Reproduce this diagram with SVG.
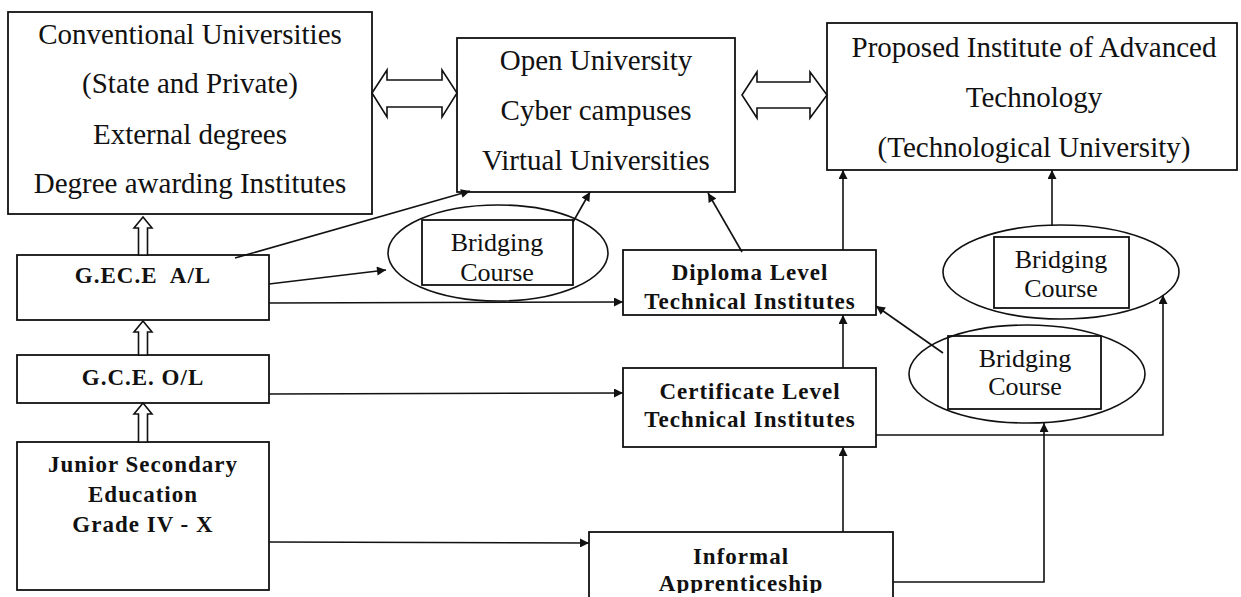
<svg xmlns="http://www.w3.org/2000/svg" width="1241" height="597" viewBox="0 0 1241 597">
<style>
.box{fill:#fff;stroke:#111;stroke-width:1.8}
.ell{fill:none;stroke:#111;stroke-width:1.6}
.hol{fill:#fff;stroke:#111;stroke-width:1.6;stroke-linejoin:miter}
.t{font-family:"Liberation Serif","Times New Roman",serif;fill:#111;text-anchor:middle}
.big{font-size:29px}
.br{font-size:26px}
.b{font-weight:bold;font-size:23px;letter-spacing:1px}
.pre{white-space:pre}
.con path{fill:none;stroke:#111;stroke-width:1.6;marker-end:url(#ah)}
</style>
<defs>
<marker id="ah" viewBox="0 0 10 10" refX="10" refY="5" markerWidth="11" markerHeight="9" markerUnits="userSpaceOnUse" orient="auto"><path d="M0,0 L10,5 L0,10 z" fill="#111"/></marker>
<clipPath id="cB1"><rect x="422" y="220" width="151" height="63"/></clipPath>
<clipPath id="cDip"><rect x="623" y="250" width="253" height="62"/></clipPath>
<clipPath id="cInf"><rect x="589" y="532" width="304" height="61"/></clipPath>
</defs>
<rect width="1241" height="597" fill="#fff"/>

<g id="conventional">
<rect class="box" x="8" y="12" width="364" height="202"/>
<text class="t big" x="190" y="44">Conventional Universities</text>
<text class="t big" x="190" y="93">(State and Private)</text>
<text class="t big" x="190" y="144">External degrees</text>
<text class="t big" x="190" y="193">Degree awarding Institutes</text>
</g>

<g id="open">
<rect class="box" x="457" y="38" width="278" height="154"/>
<text class="t big" x="596" y="70">Open University</text>
<text class="t big" x="596" y="120">Cyber campuses</text>
<text class="t big" x="596" y="170">Virtual Universities</text>
</g>

<g id="advanced">
<rect class="box" x="827" y="23" width="410" height="147"/>
<text class="t big" x="1034" y="57">Proposed Institute of Advanced</text>
<text class="t big" x="1034" y="107">Technology</text>
<text class="t big" x="1034" y="157">(Technological University)</text>
</g>

<g id="gce-al">
<rect class="box" x="17" y="255" width="252" height="65"/>
<text class="t b pre" x="143" y="283">G.EC.E  A/L</text>
</g>

<g id="gce-ol">
<rect class="box" x="17" y="355" width="252" height="48"/>
<text class="t b" x="143" y="385">G.C.E. O/L</text>
</g>

<g id="junior">
<rect class="box" x="17" y="442" width="252" height="148"/>
<text class="t b" x="143" y="472">Junior Secondary</text>
<text class="t b" x="143" y="502">Education</text>
<text class="t b" x="143" y="532">Grade IV - X</text>
</g>

<g id="bridging1">
<ellipse class="ell" cx="498" cy="253" rx="110" ry="48"/>
<rect class="box" x="422" y="220" width="151" height="65" style="fill:none"/>
<g clip-path="url(#cB1)">
<text class="t br" x="497" y="251">Bridging</text>
<text class="t br" x="497" y="281">Course</text>
</g>
</g>

<g id="diploma">
<rect class="box" x="623" y="250" width="253" height="65"/>
<g clip-path="url(#cDip)">
<text class="t b" x="750" y="280">Diploma Level</text>
<text class="t b" x="750" y="309">Technical Institutes</text>
</g>
</g>

<g id="certificate">
<rect class="box" x="623" y="368" width="253" height="79"/>
<text class="t b" x="750" y="399">Certificate Level</text>
<text class="t b" x="750" y="427">Technical Institutes</text>
</g>

<g id="informal">
<rect class="box" x="589" y="532" width="304" height="70"/>
<g clip-path="url(#cInf)">
<text class="t b" x="741" y="564">Informal</text>
<text class="t b" x="741" y="591">Apprenticeship</text>
</g>
</g>

<g id="bridging2">
<ellipse class="ell" cx="1061" cy="272" rx="118" ry="47"/>
<rect class="box" x="994" y="237" width="135" height="71" style="fill:none"/>
<text class="t br" x="1061" y="268">Bridging</text>
<text class="t br" x="1061" y="297">Course</text>
</g>

<g id="bridging3">
<ellipse class="ell" cx="1027" cy="374" rx="118" ry="49"/>
<rect class="box" x="948" y="336" width="153" height="73" style="fill:none"/>
<text class="t br" x="1025" y="367">Bridging</text>
<text class="t br" x="1025" y="395">Course</text>
</g>

<g id="connectors">
<g id="hollow-arrows">
<polygon class="hol" points="372,93 387,70 387,80 442,80 442,70 457,93 442,117 442,107 387,107 387,117"/>
<polygon class="hol" points="742,95 757,72 757,82 810,82 810,72 827,95 810,118 810,108 757,108 757,118"/>
<polygon class="hol" points="143,217 152,228 147.5,228 147.5,255 138.5,255 138.5,228 134,228"/>
<polygon class="hol" points="143,321 152,332 147.5,332 147.5,355 138.5,355 138.5,332 134,332"/>
<polygon class="hol" points="143,403 152,414 147.5,414 147.5,442 138.5,442 138.5,414 134,414"/>
</g>
<g class="con">
<path d="M235,258 L470,191"/>
<path d="M269,284 L386,270"/>
<path d="M269,303 L623,302"/>
<path d="M269,394 L623,393"/>
<path d="M269,542 L589,543"/>
<path d="M573,222 L590,192"/>
<path d="M742,252 L708,193"/>
<path d="M843,250 L843,170"/>
<path d="M843,368 L843,315"/>
<path d="M843,532 L843,447"/>
<path d="M876,435 L1163,435 L1163,295"/>
<path d="M893,582 L1044,582 L1044,423"/>
<path d="M1052,226 L1052,170"/>
<path d="M943,353 L876,306"/>
</g>
</g>
</svg>
